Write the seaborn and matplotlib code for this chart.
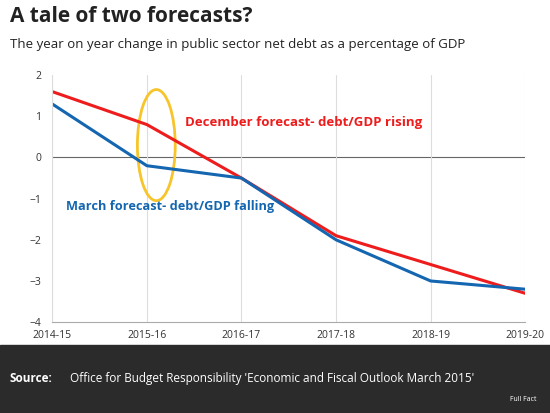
import matplotlib
matplotlib.use("Agg")
import matplotlib.pyplot as plt
import seaborn as sns
import pandas as pd
from matplotlib.patches import Ellipse, Rectangle

years = ["2014-15", "2015-16", "2016-17", "2017-18", "2018-19", "2019-20"]
december = [1.6, 0.8, -0.5, -1.9, -2.6, -3.3]
march = [1.3, -0.2, -0.5, -2.0, -3.0, -3.2]

df = pd.DataFrame({
    "x": list(range(len(years))) * 2,
    "value": december + march,
    "series": ["December"] * len(years) + ["March"] * len(years),
})

sns.set_style("white")
plt.rcParams["font.family"] = ["Open Sans", "DejaVu Sans"]

fig = plt.figure(figsize=(5.5, 4.13), dpi=100)
ax = fig.add_axes([0.095, 0.22, 0.86, 0.598])

sns.lineplot(data=df, x="x", y="value", hue="series",
             palette={"December": "#ee1c1c", "March": "#1466b0"},
             linewidth=2.2, legend=False, ax=ax)

ax.axhline(0, color="#666666", lw=0.8, zorder=0)
ax.set_xlim(0, 5)
ax.set_ylim(-4, 2)
ax.set_xticks(range(len(years)))
ax.set_xticklabels(years)
ax.set_yticks(range(-4, 3))
ax.tick_params(labelsize=7.5, colors="#333333", length=0)
ax.tick_params(axis="y", pad=8)
ax.tick_params(axis="x", pad=6)
ax.grid(axis="x", color="#dddddd", lw=0.8)
ax.set_xlabel("")
ax.set_ylabel("")
for s in ["top", "right"]:
    ax.spines[s].set_visible(False)
ax.spines["left"].set_color("#dddddd")
ax.spines["bottom"].set_color("#aaaaaa")

ax.add_patch(Ellipse((1.1, 0.3), 0.4, 2.7, fill=False,
                     edgecolor="#f7c52b", lw=2))
ax.text(1.4, 0.85, "December forecast- debt/GDP rising", color="#ee1c1c",
        fontsize=9.5, fontweight="bold", va="center")
ax.text(0.15, -1.2, "March forecast- debt/GDP falling", color="#1466b0",
        fontsize=9.2, fontweight="bold", va="center")

fig.text(0.018, 0.96, "A tale of two forecasts?", fontsize=15,
         fontweight="bold", color="#222222", va="center")
fig.text(0.018, 0.893, "The year on year change in public sector net debt as a percentage of GDP",
         fontsize=9.5, color="#222222", va="center")

fig.patches.append(Rectangle((0, 0), 1, 0.165, transform=fig.transFigure,
                             color="#2b2b2b", zorder=0))
fig.text(0.018, 0.083, "Source:", fontsize=8.5, fontweight="bold",
         color="white", va="center")
fig.text(0.128, 0.083, "Office for Budget Responsibility 'Economic and Fiscal Outlook March 2015'",
         fontsize=8.5, color="white", va="center")
fig.text(0.975, 0.03, "Full Fact", fontsize=5, color="white", ha="right")

fig.savefig("out.png", dpi=100)
